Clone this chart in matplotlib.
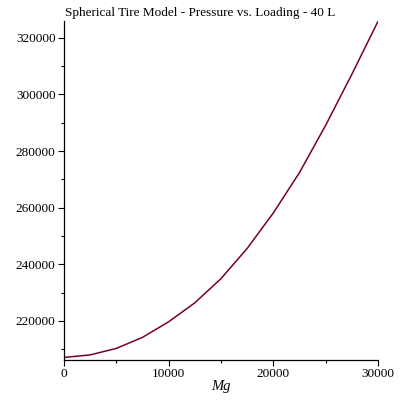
import matplotlib
matplotlib.use("Agg")
import matplotlib.pyplot as plt
from matplotlib.ticker import MultipleLocator

# Data
loading = [0, 2500, 5000, 7500, 10000, 12500, 15000, 17500, 20000, 22500, 25000, 27500, 30000]
pressure = [207100, 208000, 210300, 214200, 219700, 226400, 234950, 245600, 258150,
            272400, 289100, 307100, 325800]
title = "Spherical Tire Model - Pressure vs. Loading - 40 L"
xlabel = "Mg"

plt.rcParams['font.family'] = ['Liberation Serif', 'DejaVu Serif']

fig = plt.figure(figsize=(4, 4), dpi=100)
ax = fig.add_axes([0.16, 0.10, 0.785, 0.848])
ax.plot(loading, pressure, color='#780028', lw=1.1)
ax.set_xlim(0, 30000)
ax.set_ylim(206200, 326000)
for s in ['top', 'right']:
    ax.spines[s].set_visible(False)
for s in ['left', 'bottom']:
    ax.spines[s].set_linewidth(0.9)
ax.xaxis.set_major_locator(MultipleLocator(10000))
ax.xaxis.set_minor_locator(MultipleLocator(5000))
ax.yaxis.set_major_locator(MultipleLocator(20000))
ax.yaxis.set_minor_locator(MultipleLocator(10000))
ax.tick_params(which='major', length=4, width=0.8, labelsize=9.5, pad=2)
ax.tick_params(which='minor', length=2.5, width=0.8)
ax.set_xlabel(xlabel, fontsize=10.5, style='italic', labelpad=0)
fig.text(0.5, 0.968, title, ha='center', va='center', fontsize=9.5)
fig.savefig('out.png', dpi=100)
